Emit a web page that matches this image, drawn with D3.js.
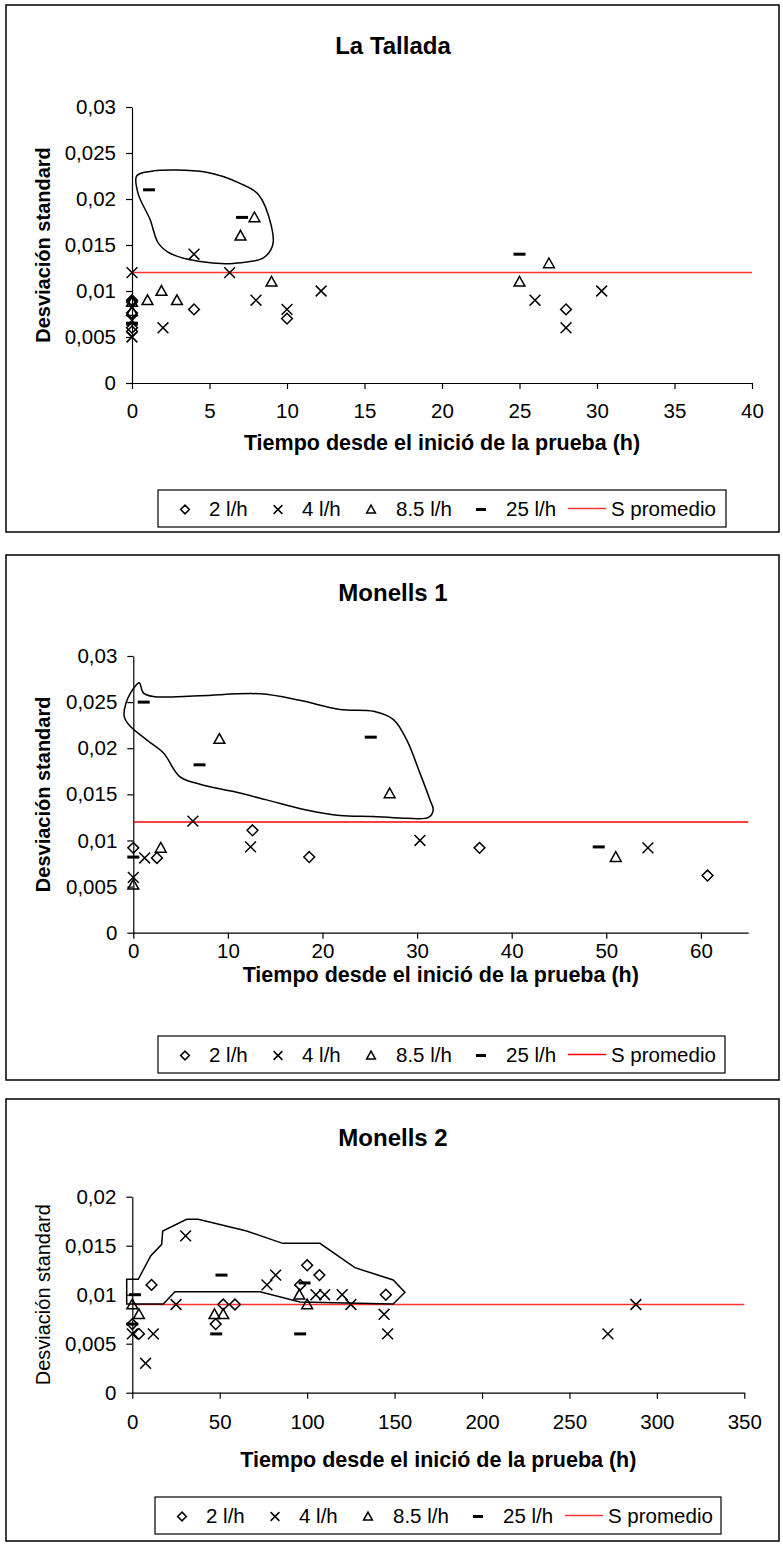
<!DOCTYPE html>
<html>
<head>
<meta charset="utf-8">
<script src="https://cdn.jsdelivr.net/npm/d3@7"></script>
<style>
  body { margin: 0; background: #fff; }
  svg { display: block; }
  text { font-family: "Liberation Sans", Arial, Helvetica, sans-serif; fill: #000; }
</style>
</head>
<body>
<svg id="fig" width="783" height="1544"></svg>
<script>
// ---- shared labels ----
const seriesNames = ["2 l/h", "4 l/h", "8.5 l/h", "25 l/h"];
const averageLabel = "S promedio";
const xAxisTitle = "Tiempo desde el inició de la prueba (h)";
const yAxisTitle = "Desviación standard";

// ---- La Tallada: [hours, standard deviation] ----
const talladaTitle = "La Tallada";
const talladaXTicks = [0, 5, 10, 15, 20, 25, 30, 35, 40];
const talladaYTicks = [0, 0.005, 0.01, 0.015, 0.02, 0.025, 0.03];
const talladaQ2 = [[0, 0.009], [0, 0.0088], [0, 0.0076], [0, 0.006], [0, 0.0056], [4, 0.008], [10, 0.007], [28, 0.008]];
const talladaQ4 = [[0, 0.012], [0, 0.0068], [0, 0.005], [2, 0.006], [4, 0.014], [6.3, 0.012], [8, 0.009], [10, 0.008], [12.2, 0.010], [26, 0.009], [28, 0.006], [30.3, 0.010]];
const talladaQ85 = [[0, 0.0088], [0, 0.0078], [1, 0.009], [1.9, 0.010], [2.9, 0.009], [7, 0.016], [7.9, 0.018], [9, 0.011], [25, 0.011], [26.9, 0.013]];
const talladaQ25 = [[0, 0.0065], [1.1, 0.021], [7.1, 0.018], [25, 0.014]];
const talladaMean = 0.012;
const talladaOutline = [[0.3, 0.0225], [1.16, 0.023], [4.8, 0.0229], [6.97, 0.0217], [8.15, 0.0205], [9.0, 0.017], [9.08, 0.015], [8.47, 0.0136], [6.54, 0.013], [4.39, 0.0132], [2.45, 0.0141], [1.7, 0.0152], [1.16, 0.0178], [0.41, 0.0205]];

// ---- Monells 1 ----
const monells1Title = "Monells 1";
const monells1XTicks = [0, 10, 20, 30, 40, 50, 60];
const monells1YTicks = [0, 0.005, 0.01, 0.015, 0.02, 0.025, 0.03];
const monells1Q2 = [[0, 0.0092], [2.5, 0.0081], [12.6, 0.0111], [18.6, 0.0082], [36.6, 0.0092], [60.7, 0.0062]];
const monells1Q4 = [[0, 0.006], [1.2, 0.0081], [6.3, 0.0121], [12.4, 0.0093], [30.3, 0.010], [54.4, 0.0092]];
const monells1Q85 = [[0, 0.0052], [2.9, 0.0092], [9.1, 0.021], [27.1, 0.0151], [51, 0.0082]];
const monells1Q25 = [[0, 0.0082], [1.1, 0.025], [7, 0.0182], [25.1, 0.0212], [49.2, 0.0093]];
const monells1Mean = 0.012;
const monells1Outline = [[0.63, 0.0271], [1.06, 0.026], [2.11, 0.0256], [7.05, 0.0257], [13.4, 0.0259], [17.6, 0.0252], [21.85, 0.0242], [25.4, 0.024], [27.5, 0.0231], [28.9, 0.0209], [30.3, 0.0173], [31.36, 0.0144], [31.7, 0.0133], [31.2, 0.0125], [28.9, 0.0124], [25.4, 0.0126], [21.85, 0.0127], [18.3, 0.0133], [14.1, 0.0144], [10.6, 0.0153], [7.05, 0.0161], [4.94, 0.0169], [3.17, 0.0195], [1.42, 0.0209], [-0.35, 0.0224], [-0.95, 0.0234], [-0.77, 0.0249], [0.18, 0.0267]];

// ---- Monells 2 ----
const monells2Title = "Monells 2";
const monells2XTicks = [0, 50, 100, 150, 200, 250, 300, 350];
const monells2YTicks = [0, 0.005, 0.01, 0.015, 0.02];
const monells2Q2 = [[0, 0.007], [3.8, 0.006], [11, 0.011], [47.7, 0.007], [52, 0.009], [58.7, 0.009], [96, 0.011], [100, 0.013], [107, 0.012], [145, 0.010]];
const monells2Q4 = [[0, 0.006], [7.6, 0.003], [12, 0.006], [25, 0.009], [30.5, 0.016], [77, 0.011], [82, 0.012], [105, 0.010], [110, 0.010], [120, 0.010], [125, 0.009], [144, 0.008], [146, 0.006], [272, 0.006], [288, 0.009]];
const monells2Q85 = [[0, 0.009], [3.8, 0.008], [47, 0.008], [52, 0.008], [95.5, 0.010], [100, 0.009]];
const monells2Q25 = [[1.5, 0.010], [0, 0.007], [48, 0.006], [51, 0.012], [96, 0.006], [98.5, 0.0112]];
const monells2Mean = 0.009;
const monells2Outline = [[-3.2, 0.01157], [3.4, 0.01157], [10.5, 0.01395], [16.8, 0.01514], [17.4, 0.0165], [31.1, 0.01769], [37.7, 0.01769], [65.4, 0.0165], [86, 0.01524], [107.3, 0.01524], [127.3, 0.01276], [149.2, 0.0115], [155.9, 0.01024], [149.2, 0.00905], [95.9, 0.00926], [73, 0.01031], [24.4, 0.01031], [17.7, 0.00905], [-3.2, 0.00905]];

// ---- marker shapes ----
const shapes = {
  diamond: r => `M0,${-r}L${r},0L0,${r}L${-r},0Z`,
  cross: r => `M${-r},${-r}L${r},${r}M${r},${-r}L${-r},${r}`,
  triangle: r => `M0,${-r}L${r},${r * 0.8}L${-r},${r * 0.8}Z`,
  dash: r => `M${-r},-1.5H${r}V1.5H${-r}Z`
};
const seriesShapes = ["diamond", "cross", "triangle", "dash"];

const comma = d => String(d).replace(".", ",");
const svg = d3.select("#fig");

function drawMarker(g, kind, px, py, r) {
  const p = g.append("path")
    .attr("transform", `translate(${px},${py})`)
    .attr("d", shapes[kind](r));
  if (kind === "dash") p.attr("fill", "#000").attr("stroke", "none");
  else p.attr("fill", "none").attr("stroke", "#000").attr("stroke-width", 1.5);
}

function drawChart(cfg) {
  const g = svg.append("g");
  // outer frame
  g.append("rect")
    .attr("x", cfg.box[0]).attr("y", cfg.box[1])
    .attr("width", cfg.box[2]).attr("height", cfg.box[3])
    .attr("fill", "none").attr("stroke", "#000").attr("stroke-width", 1.5);

  g.append("text")
    .attr("x", 393).attr("y", cfg.titleY)
    .attr("text-anchor", "middle").attr("dominant-baseline", "central")
    .attr("font-size", 24).attr("font-weight", "bold")
    .text(cfg.title);

  const x = d3.scaleLinear().domain(cfg.xDomain).range([cfg.left, cfg.right]);
  const y = d3.scaleLinear().domain(cfg.yDomain).range([cfg.bottom, cfg.top]);

  // axes
  const xAxis = g.append("g")
    .attr("transform", `translate(0,${cfg.bottom})`)
    .call(d3.axisBottom(x).tickValues(cfg.xTicks).tickSize(6).tickSizeOuter(0).tickPadding(cfg.xPad).tickFormat(d => d));
  const yAxis = g.append("g")
    .attr("transform", `translate(${cfg.left},0)`)
    .call(d3.axisLeft(y).tickValues(cfg.yTicks).tickSize(6).tickSizeOuter(0).tickPadding(10).tickFormat(comma));
  [xAxis, yAxis].forEach(a => {
    a.attr("font-family", null).attr("font-size", null);
    a.selectAll("text").attr("font-size", 20.5).attr("fill", "#000");
    a.selectAll("line").attr("stroke", "#000").attr("stroke-width", 1.2);
    a.select(".domain").attr("stroke", "#000").attr("stroke-width", 1.2);
  });

  // axis titles
  g.append("text")
    .attr("x", (cfg.left + cfg.right) / 2).attr("y", cfg.xTitleY)
    .attr("text-anchor", "middle").attr("dominant-baseline", "central")
    .attr("font-size", 21.5).attr("font-weight", "bold")
    .text(xAxisTitle);
  g.append("text")
    .attr("transform", `translate(${cfg.yTitleX},${(cfg.top + cfg.bottom) / 2}) rotate(-90)`)
    .attr("text-anchor", "middle").attr("dominant-baseline", "central")
    .attr("font-size", 20).attr("font-weight", cfg.yTitleBold ? "bold" : "normal")
    .text(yAxisTitle);

  // average line
  g.append("line")
    .attr("x1", x(cfg.xDomain[0])).attr("x2", x(cfg.xDomain[1]))
    .attr("y1", y(cfg.mean)).attr("y2", y(cfg.mean))
    .attr("stroke", cfg.meanColor).attr("stroke-width", 1.5);

  // outline around the high-deviation group
  const outline = d3.line()
    .x(d => x(d[0])).y(d => y(d[1]))
    .curve(cfg.smooth ? d3.curveCatmullRomClosed.alpha(0.5) : d3.curveLinearClosed);
  g.append("path")
    .attr("d", outline(cfg.outline))
    .attr("fill", "none").attr("stroke", "#000").attr("stroke-width", 1.5);

  // series markers
  cfg.series.forEach((pts, i) => {
    pts.forEach(p => drawMarker(g, seriesShapes[i], x(p[0]), y(p[1]), i === 3 ? 6 : 5.4));
  });

  // legend
  const [lx, ly, lw, lh] = cfg.legend;
  g.append("rect").attr("x", lx).attr("y", ly).attr("width", lw).attr("height", lh)
    .attr("fill", "#fff").attr("stroke", "#000").attr("stroke-width", 1.2);
  const cy = ly + lh / 2;
  const markerX = [27, 120, 213, 323];
  const textX = [51, 144, 238, 348];
  seriesNames.forEach((name, i) => {
    drawMarker(g, seriesShapes[i], lx + markerX[i], cy + 1, i === 3 ? 5 : 4.4);
    g.append("text").attr("x", lx + textX[i]).attr("y", cy)
      .attr("dominant-baseline", "central").attr("font-size", 20.5).text(name);
  });
  g.append("line").attr("x1", lx + 410).attr("x2", lx + 448)
    .attr("y1", cy).attr("y2", cy).attr("stroke", cfg.meanColor).attr("stroke-width", 1.3);
  g.append("text").attr("x", lx + 453).attr("y", cy)
    .attr("dominant-baseline", "central").attr("font-size", 20.5).text(averageLabel);
}

drawChart({
  title: talladaTitle, box: [6, 5, 773, 527], titleY: 45,
  left: 132, right: 752, top: 107, bottom: 383,
  xDomain: [0, 40], yDomain: [0, 0.03], xTicks: talladaXTicks, yTicks: talladaYTicks,
  xPad: 14, xTitleY: 443, yTitleX: 43, yTitleBold: true,
  mean: talladaMean, meanColor: "#ff3030", outline: talladaOutline, smooth: true,
  series: [talladaQ2, talladaQ4, talladaQ85, talladaQ25],
  legend: [158, 490, 568, 37]
});

drawChart({
  title: monells1Title, box: [6, 555, 773, 525], titleY: 592,
  left: 133.3, right: 748.2, top: 656, bottom: 932.7,
  xDomain: [0, 65], yDomain: [0, 0.03], xTicks: monells1XTicks, yTicks: monells1YTicks,
  xPad: 5, xTitleY: 975, yTitleX: 43, yTitleBold: true,
  mean: monells1Mean, meanColor: "#ff0000", outline: monells1Outline, smooth: true,
  series: [monells1Q2, monells1Q4, monells1Q85, monells1Q25],
  legend: [158, 1036, 567, 37]
});

drawChart({
  title: monells2Title, box: [6, 1099, 773, 442], titleY: 1137,
  left: 132.3, right: 744.3, top: 1196.7, bottom: 1392.7,
  xDomain: [0, 350], yDomain: [0, 0.02], xTicks: monells2XTicks, yTicks: monells2YTicks,
  xPad: 16, xTitleY: 1460, yTitleX: 43, yTitleBold: false,
  mean: monells2Mean, meanColor: "#ff3030", outline: monells2Outline, smooth: false,
  series: [monells2Q2, monells2Q4, monells2Q85, monells2Q25],
  legend: [155, 1497, 566, 37]
});
</script>
</body>
</html>
